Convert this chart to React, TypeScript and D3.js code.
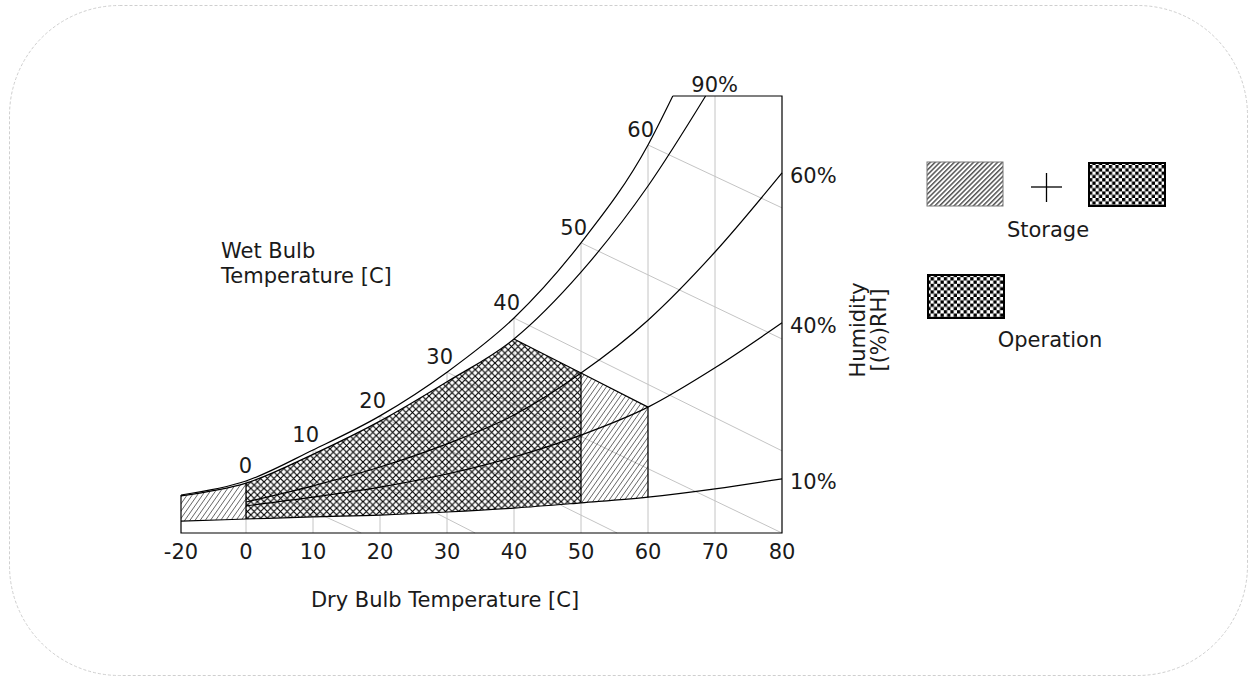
import React from 'react';
import * as d3 from 'd3';

// Dry bulb temperature ticks [C]
const dryBulbTicks = [-20, 0, 10, 20, 30, 40, 50, 60, 70, 80];

// Relative humidity curves: dry bulb T [C] and humidity ratio (chart units, 0..100)
const satT = [-20, 0, 10, 20, 30, 40, 50, 60, 63.7];
const satW = [8.7, 11.9, 19.0, 26.8, 36.8, 49.2, 66.4, 88.8, 100];

const rh90T = [-20, 0, 10, 20, 30, 40, 50, 60, 68.6];
const rh90W = [8.5, 11.4, 18.0, 25.6, 34.6, 44.4, 59.7, 79.4, 100];

const rh60T = [0, 10, 20, 30, 40, 50, 60, 70, 80];
const rh60W = [7.1, 10.8, 15.1, 20.4, 27.0, 36.6, 48.7, 64.3, 82.4];

const rh40T = [0, 10, 20, 30, 40, 50, 60, 70, 80];
const rh40W = [6.2, 8.2, 10.5, 13.5, 17.4, 22.4, 28.8, 37.8, 48.1];

const rh10T = [-20, 0, 10, 20, 30, 40, 50, 60, 70, 80];
const rh10W = [2.7, 3.2, 3.7, 4.1, 4.8, 5.7, 6.9, 8.2, 10.1, 12.4];

// Wet bulb lines: start on saturation curve at T, end point (dry T, W)
const wetBulbT = [0, 10, 20, 30, 40, 50, 60];
const wetBulbEndT = [17.2, 34.2, 55.4, 80, 80, 80, 80];
const wetBulbEndW = [0, 0, 0, 0, 18.8, 44.4, 74.4];

// Grid verticals
const gridT = [0, 10, 20, 30, 40, 50, 60, 70];

// Envelopes
const operationRange = [0, 50];
const storageLeftRange = [-20, 0];
const storageRightRange = [50, 60];

const rhLabels = ['90%', '60%', '40%', '10%'];

export default function App() {
  const W = 1249;
  const H = 681;
  const x = d3.scaleLinear().domain([-20, 0, 80]).range([181, 246, 782]);
  const y = d3.scaleLinear().domain([0, 100]).range([533, 96]);
  const pts = (T: number[], V: number[]) => T.map((t, i) => [t, V[i]] as [number, number]);
  const line = d3
    .line<[number, number]>()
    .x((d) => x(d[0]))
    .y((d) => y(d[1]))
    .curve(d3.curveMonotoneX);
  const at = (T: number[], V: number[], t: number) => V[T.indexOf(t)];

  const sat = pts(satT, satW);
  const r90 = pts(rh90T, rh90W);
  const r60 = pts(rh60T, rh60W);
  const r40 = pts(rh40T, rh40W);
  const r10 = pts(rh10T, rh10W);

  const x0 = x(-20);
  const x80 = x(80);
  const yB = y(0);
  const yT = y(100);

  const clipAbove10 = (line(r10) as string) + `L${x80 + 50},${yB}L${x80 + 50},0L${x0 - 50},0L${x0 - 50},${y(rh10W[0])}Z`;
  const clipBelow90 =
    (line(r90) as string) + `L${x80 + 50},${yT}L${x80 + 50},${H}L${x0 - 50},${H}L${x0 - 50},${y(rh90W[0])}Z`;

  const n40: [number, number] = [x(40), y(at(rh90T, rh90W, 40))];
  const n50: [number, number] = [x(operationRange[1]), y(at(rh60T, rh60W, 50))];
  const n60: [number, number] = [x(storageRightRange[1]), y(at(rh40T, rh40W, 60))];

  const opPoly = [
    [x(operationRange[0]), 0],
    [n40[0], 0],
    n40,
    n50,
    [n50[0], H],
    [x(operationRange[0]), H],
  ];
  const stRightPoly = [n50, n60, [n60[0], H], [n50[0], H]];
  const stLeftPoly = [
    [x(storageLeftRange[0]), 0],
    [x(storageLeftRange[1]), 0],
    [x(storageLeftRange[1]), H],
    [x(storageLeftRange[0]), H],
  ];
  const poly = (p: any[]) => 'M' + p.map((q) => `${q[0]},${q[1]}`).join('L') + 'Z';

  const satAt = (t: number) => (t <= satT[satT.length - 1] ? at(satT, satW, t) : 100);

  const font = 'DejaVu Sans, Verdana, sans-serif';
  const txt = '#1a1a1a';
  const fs = 21;

  const y10_0 = y(at(rh10T, rh10W, 0));
  const y90_0 = y(at(rh90T, rh90W, 0));
  const y10_50 = y(at(rh10T, rh10W, 50));
  const y10_60 = y(at(rh10T, rh10W, 60));

  const rhEnds = [
    { label: rhLabels[1], yy: y(rh60W[rh60W.length - 1]) },
    { label: rhLabels[2], yy: y(rh40W[rh40W.length - 1]) },
    { label: rhLabels[3], yy: y(rh10W[rh10W.length - 1]) },
  ];

  return (
    <svg
      width={W}
      height={H}
      style={{ position: 'absolute', left: 0, top: 0, background: '#fff' }}
      fontFamily={font}
    >
      <defs>
        <pattern id="diag" width="4.2" height="4.2" patternUnits="userSpaceOnUse" patternTransform="rotate(35)">
          <line x1="0" y1="0" x2="0" y2="4.2" stroke="#000" strokeWidth="1" />
        </pattern>
        <pattern id="cross" width="6.6" height="6.6" patternUnits="userSpaceOnUse">
          <path d="M-1,-1L7.6,7.6M7.6,-1L-1,7.6" stroke="#000" strokeWidth="1.15" />
        </pattern>
        <pattern id="legDiag" width="3.4" height="3.4" patternUnits="userSpaceOnUse" patternTransform="rotate(45)">
          <rect x="0" y="0" width="1.5" height="3.4" fill="#555" />
        </pattern>
        <pattern id="checker" width="6.6" height="6.6" patternUnits="userSpaceOnUse">
          <rect x="0" y="0" width="6.6" height="6.6" fill="#fff" />
          <rect x="0" y="0" width="3.3" height="3.3" fill="#000" />
          <rect x="3.3" y="3.3" width="3.3" height="3.3" fill="#000" />
        </pattern>
        <clipPath id="c10">
          <path d={clipAbove10} />
        </clipPath>
        <clipPath id="c90">
          <path d={clipBelow90} />
        </clipPath>
      </defs>

      <rect
        x={9.5}
        y={5.5}
        width={1238}
        height={670}
        rx={110}
        ry={110}
        fill="none"
        stroke="#cfcfcf"
        strokeDasharray="3,2"
      />

      {gridT.map((t) => (
        <line key={'g' + t} x1={x(t)} x2={x(t)} y1={yB} y2={y(satAt(t))} stroke="#c4c4c4" strokeWidth={1} />
      ))}
      {wetBulbT.map((t, i) => (
        <line
          key={'wb' + t}
          x1={x(t)}
          y1={y(satAt(t))}
          x2={x(wetBulbEndT[i])}
          y2={y(wetBulbEndW[i])}
          stroke="#c4c4c4"
          strokeWidth={1}
        />
      ))}

      <g clipPath="url(#c10)">
        <g clipPath="url(#c90)">
          <path d={poly(stLeftPoly)} fill="url(#diag)" />
          <path d={poly(opPoly)} fill="url(#cross)" />
          <path d={poly(stRightPoly)} fill="url(#diag)" />
        </g>
      </g>

      {[sat, r90, r60, r40, r10].map((c, i) => (
        <path key={'c' + i} d={line(c) as string} fill="none" stroke="#000" strokeWidth={1.2} />
      ))}

      <line x1={x(0)} x2={x(0)} y1={y10_0} y2={y90_0} stroke="#000" strokeWidth={1.2} />
      <line x1={n50[0]} x2={n50[0]} y1={y10_50} y2={n50[1]} stroke="#000" strokeWidth={1.2} />
      <line x1={n60[0]} x2={n60[0]} y1={y10_60} y2={n60[1]} stroke="#000" strokeWidth={1.2} />
      <path d={poly([n40, n50, n60]).replace('Z', '')} fill="none" stroke="#000" strokeWidth={1.2} />

      <path
        d={`M${x0},${y(satW[0])}L${x0},${yB}L${x80},${yB}L${x80},${yT}L${x(satT[satT.length - 1])},${yT}`}
        fill="none"
        stroke="#000"
        strokeWidth={1.2}
      />

      {dryBulbTicks.map((t) => (
        <text key={'t' + t} x={x(t)} y={559} textAnchor="middle" fontSize={fs} fill={txt}>
          {t}
        </text>
      ))}
      <text x={445} y={607} textAnchor="middle" fontSize={fs} fill={txt}>
        Dry Bulb Temperature [C]
      </text>

      {wetBulbT.map((t) => (
        <text key={'wl' + t} x={x(t) + 6} y={y(satAt(t)) - 8} textAnchor="end" fontSize={fs} fill={txt}>
          {t}
        </text>
      ))}
      <text x={221} y={258} fontSize={fs} fill={txt}>
        Wet Bulb
      </text>
      <text x={221} y={283} fontSize={fs} fill={txt}>
        Temperature [C]
      </text>

      <text x={x(rh90T[rh90T.length - 1]) + 9} y={yT - 4} textAnchor="middle" fontSize={fs} fill={txt}>
        {rhLabels[0]}
      </text>
      {rhEnds.map((r) => (
        <text key={r.label} x={x80 + 8} y={r.yy + 10} fontSize={fs} fill={txt}>
          {r.label}
        </text>
      ))}
      <text transform="translate(865,330) rotate(-90)" textAnchor="middle" fontSize={fs} fill={txt}>
        <tspan x={0} y={0}>
          Humidity
        </tspan>
        <tspan x={0} y={21}>
          [(%)RH]
        </tspan>
      </text>

      <rect x={927} y={162} width={76} height={44} fill="url(#legDiag)" stroke="#777" strokeWidth={1} />
      <line x1={1031} x2={1062} y1={187} y2={187} stroke="#000" strokeWidth={1.3} />
      <line x1={1046.5} x2={1046.5} y1={173} y2={202} stroke="#000" strokeWidth={1.3} />
      <rect x={1089} y={163} width={76} height={43} fill="url(#checker)" stroke="#000" strokeWidth={2} />
      <text x={1048} y={237} textAnchor="middle" fontSize={fs} fill={txt}>
        Storage
      </text>
      <rect x={928} y={275} width={76} height={43} fill="url(#checker)" stroke="#000" strokeWidth={2} />
      <text x={1050} y={347} textAnchor="middle" fontSize={fs} fill={txt}>
        Operation
      </text>
    </svg>
  );
}
